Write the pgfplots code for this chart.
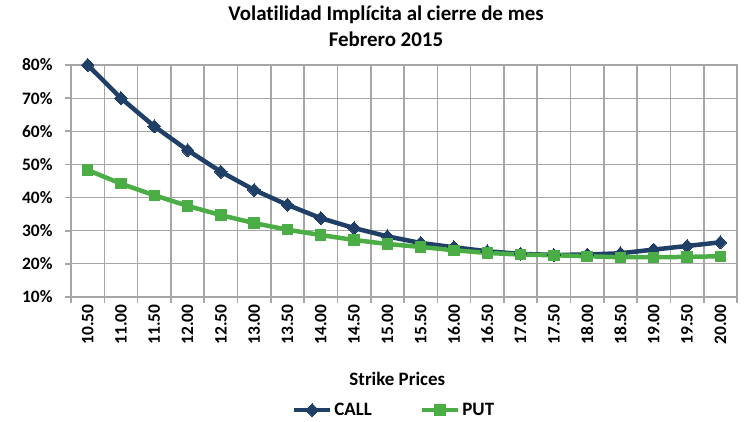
\documentclass[border=0pt]{standalone}
\usepackage{fontspec}
\setmainfont{Carlito}[Ligatures=NoCommon]
\usepackage{pgfplots}
\pgfplotsset{compat=1.18}
\definecolor{callc}{HTML}{1F3F66}
\definecolor{putc}{HTML}{4BAD45}
\definecolor{gridc}{HTML}{A6A6A6}
\begin{document}
\begin{tikzpicture}
\useasboundingbox (-71bp,-125bp) rectangle (673bp,297bp);
\begin{axis}[
  scale only axis,
  width=666bp, height=232bp,
  at={(0,0)}, anchor=south west,
  xmin=0, xmax=20,
  ymin=10, ymax=80,
  clip=false,
  xtick={0,1,...,20},
  xticklabels={},
  extra x ticks={0.5,1.5,...,19.5},
  extra x tick labels={10.50,11.00,11.50,12.00,12.50,13.00,13.50,14.00,14.50,15.00,15.50,16.00,16.50,17.00,17.50,18.00,18.50,19.00,19.50,20.00},
  extra x tick style={grid=none, major tick length=0pt, tick style={draw=none}},
  major tick length=6bp,
  tick align=outside,
  xtick pos=lower, ytick pos=left,
  ytick={10,20,...,80},
  yticklabels={10\%,20\%,30\%,40\%,50\%,60\%,70\%,80\%},
  xmajorgrids=true, ymajorgrids=true,
  grid style={draw=gridc, line width=1.2bp},
  x grid style={draw=gridc, line width=1.6bp},
  axis line style={draw=gridc, line width=1.2bp},
  tick style={draw=gridc, line width=1.6bp},
  /pgf/number format/assume math mode=true,
  ticklabel style={font=\bfseries\fontsize{17.5}{20}\selectfont, text=black},
  yticklabel style={xshift=-9bp},
  xticklabel style={rotate=90, anchor=east, xshift=-4bp},
  title={Volatilidad Implícita al cierre de mes\\Febrero 2015},
  title style={at={(axis description cs:0.473,1.14)}, anchor=center, align=center, font=\bfseries\fontsize{21}{26}\selectfont},
  xlabel={Strike Prices},
  xlabel style={at={(axis description cs:0.49,-0.353)}, anchor=center, font=\bfseries\fontsize{19}{20}\selectfont},
  legend columns=2,
  legend style={at={(axis description cs:0.485,-0.487)}, anchor=center, draw=none, fill=none,
    font=\bfseries\fontsize{19}{20}\selectfont,
    /tikz/every even column/.append style={column sep=46bp}},
  legend image code/.code={
    \draw[#1, mark=none] (0bp,0bp) -- (36bp,0bp);
    \path[#1, line width=0pt] plot coordinates {(18bp,0bp)};
  },
]
\addplot[color=callc, line width=4.5bp, mark=diamond*, mark size=6.5bp, mark options={solid, line width=0pt, xscale=1.3}]
  table[row sep=\\] {x y\\ 0.5 80.0\\ 1.5 70.0\\ 2.5 61.5\\ 3.5 54.3\\ 4.5 47.8\\ 5.5 42.3\\ 6.5 37.8\\ 7.5 33.8\\ 8.5 30.8\\ 9.5 28.3\\ 10.5 26.3\\ 11.5 25.0\\ 12.5 23.8\\ 13.5 23.0\\ 14.5 22.7\\ 15.5 22.8\\ 16.5 23.2\\ 17.5 24.3\\ 18.5 25.4\\ 19.5 26.5\\};
\addlegendentry{CALL}
\addplot[color=putc, line width=4.5bp, mark=square*, mark size=5.2bp, mark options={solid, line width=0pt}]
  table[row sep=\\] {x y\\ 0.5 48.3\\ 1.5 44.2\\ 2.5 40.7\\ 3.5 37.5\\ 4.5 34.7\\ 5.5 32.3\\ 6.5 30.3\\ 7.5 28.7\\ 8.5 27.2\\ 9.5 26.0\\ 10.5 25.1\\ 11.5 24.1\\ 12.5 23.3\\ 13.5 22.8\\ 14.5 22.6\\ 15.5 22.3\\ 16.5 22.0\\ 17.5 22.0\\ 18.5 22.1\\ 19.5 22.3\\};
\addlegendentry{PUT}
\end{axis}
\end{tikzpicture}
\end{document}
